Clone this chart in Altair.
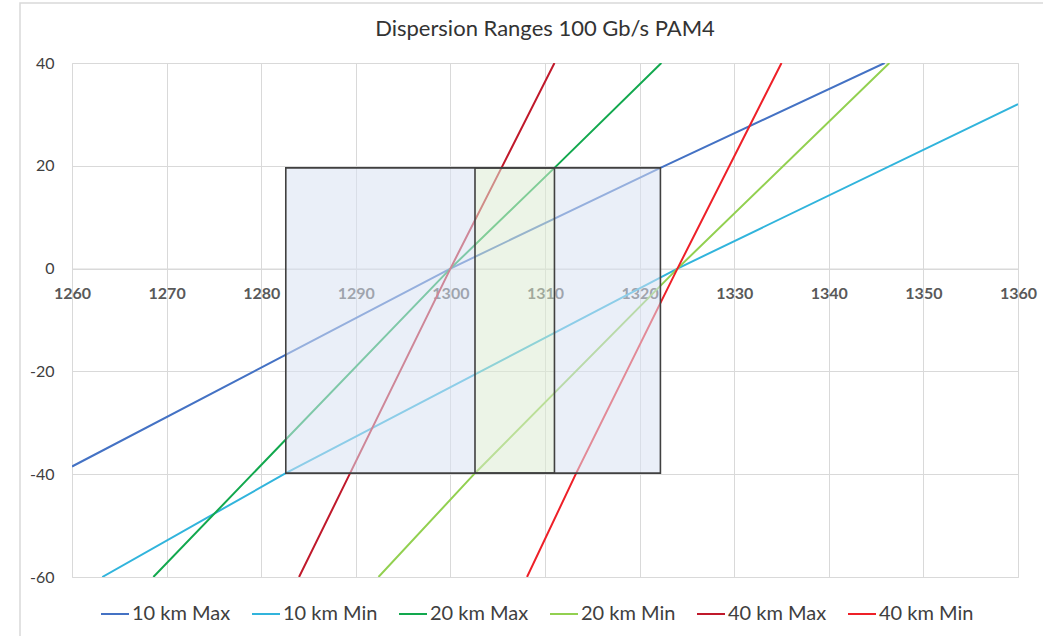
import altair as alt
import pandas as pd

# Dispersion limits (ps/nm) versus wavelength (nm) for each reach
series_names = ["10 km Max", "10 km Min", "20 km Max", "20 km Min", "40 km Max", "40 km Min"]
series_colors = ["#4472C4", "#31B4DC", "#12A84E", "#92D050", "#C0192B", "#EE2028"]

wl_10max = [1260.0, 1300.0, 1322.2, 1345.9]
d_10max = [-38.5, 0.0, 19.6, 40.0]
wl_10min = [1263.2, 1282.6, 1324.0, 1360.0]
d_10min = [-60.0, -39.8, 0.0, 32.0]
wl_20max = [1268.6, 1300.0, 1311.0, 1322.3]
d_20max = [-60.0, 0.0, 19.6, 40.0]
wl_20min = [1292.4, 1302.6, 1324.0, 1346.4]
d_20min = [-60.0, -39.8, 0.0, 40.0]
wl_40max = [1284.0, 1289.4, 1300.0, 1305.4, 1311.0]
d_40max = [-60.0, -39.8, 0.0, 19.6, 40.0]
wl_40min = [1308.1, 1313.3, 1324.0, 1335.0]
d_40min = [-60.0, -39.8, 0.0, 40.0]

# Shaded wavelength / dispersion windows
box_wl_lo = [1282.6, 1302.6, 1311.0]
box_wl_hi = [1302.6, 1311.0, 1322.2]
box_fill = ["#D9E1F2", "#DCEBD3", "#D9E1F2"]
box_d_lo = -39.8
box_d_hi = 19.6
outline_wl_lo = [1282.6, 1302.6]
outline_wl_hi = [1322.2, 1311.0]

x_ticks = [1260, 1270, 1280, 1290, 1300, 1310, 1320, 1330, 1340, 1350, 1360]
y_ticks = [-60, -40, -20, 0, 20, 40]

rows = []
for name, xs, ys in zip(
    series_names,
    [wl_10max, wl_10min, wl_20max, wl_20min, wl_40max, wl_40min],
    [d_10max, d_10min, d_20max, d_20min, d_40max, d_40min],
):
    for i, (x, y) in enumerate(zip(xs, ys)):
        rows.append({"series": name, "wl": x, "disp": y, "order": i})
lines_df = pd.DataFrame(rows)

boxes_df = pd.DataFrame({
    "lo": box_wl_lo, "hi": box_wl_hi, "fill": box_fill,
    "dlo": [box_d_lo] * 3, "dhi": [box_d_hi] * 3,
})
outline_df = pd.DataFrame({
    "lo": outline_wl_lo, "hi": outline_wl_hi,
    "dlo": [box_d_lo] * 2, "dhi": [box_d_hi] * 2,
})

W, H = 946, 514
y_min, y_max = -60, 40
zero_offset = -(H - H * (y_max - 0) / (y_max - y_min))

x_scale = alt.Scale(domain=[1260, 1360], nice=False, zero=False)
y_scale = alt.Scale(domain=[y_min, y_max], nice=False, zero=False)

x_axis = alt.Axis(
    values=x_ticks, title=None, grid=True, gridColor="#D9D9D9", gridWidth=1,
    domain=True, domainColor="#D9D9D9", domainWidth=1.2, ticks=False,
    offset=zero_offset, labelPadding=17, labelFontSize=16, labelFontWeight="bold",
    labelColor="#595959", labelFont="Lato", labelFlush=False,
    labelExpr="'' + datum.value",
)
y_axis = alt.Axis(
    values=y_ticks, title=None, grid=True, gridColor="#D9D9D9", gridWidth=1,
    domain=False, ticks=False, labelPadding=18, labelFontSize=16,
    labelColor="#404040", labelFont="Lato",
    labelExpr="'' + datum.value",
)

lines = alt.Chart(lines_df).mark_line(strokeWidth=2, clip=True).encode(
    x=alt.X("wl:Q", scale=x_scale, axis=x_axis),
    y=alt.Y("disp:Q", scale=y_scale, axis=y_axis),
    color=alt.Color(
        "series:N",
        scale=alt.Scale(domain=series_names, range=series_colors),
        legend=alt.Legend(
            title=None, orient="none", direction="horizontal",
            legendX=28, legendY=536, symbolType="stroke", symbolSize=784,
            symbolStrokeWidth=2, labelFontSize=20, labelFont="Lato",
            labelColor="#404040", labelOffset=2, columnPadding=17, padding=0,
        ),
    ),
    order="order:Q",
)

fills = alt.Chart(boxes_df).mark_rect(opacity=0.55).encode(
    x="lo:Q", x2="hi:Q", y="dlo:Q", y2="dhi:Q",
    fill=alt.Fill("fill:N", scale=None),
)

outlines = alt.Chart(outline_df).mark_rect(
    fill=None, stroke="#404040", strokeWidth=1.6
).encode(x="lo:Q", x2="hi:Q", y="dlo:Q", y2="dhi:Q")

frame = alt.Chart(pd.DataFrame({"k": [0]})).mark_rect(
    fill=None, stroke="#D9D9D9", strokeWidth=1.5
).encode(
    x=alt.value(-52), x2=alt.value(1100), y=alt.value(-60), y2=alt.value(700)
)

chart = alt.layer(frame, lines, fills, outlines).properties(
    width=W, height=H,
    title=alt.Title(
        "Dispersion Ranges 100 Gb/s PAM4", fontSize=22, font="Lato",
        fontWeight="normal", color="#333333", anchor="middle", offset=-39,
    ),
    autosize=alt.AutoSizeParams(type="none"),
    padding={"left": 72, "top": 63, "right": 25, "bottom": 59},
).configure_view(stroke=None).configure(background="white")

chart.save("out.html", embed_options={"renderer": "svg", "actions": False})
